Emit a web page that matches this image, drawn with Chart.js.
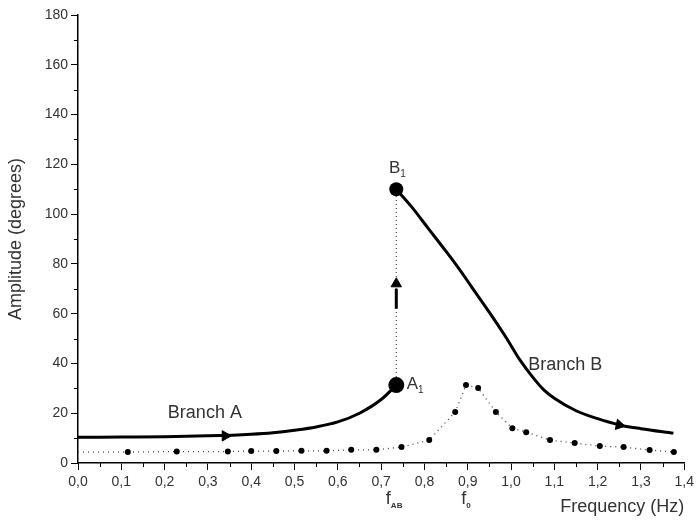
<!DOCTYPE html>
<html>
<head>
<meta charset="utf-8">
<script src="https://cdn.jsdelivr.net/npm/chart.js@4.4.0/dist/chart.umd.min.js"></script>
<style>
  html, body { margin: 0; padding: 0; background: #fff; }
</style>
</head>
<body>
<canvas id="grafico" width="698" height="526"></canvas>
<script>
// Branch A (sweep up), Branch B (sweep down), linear response (dotted)
const freqA = [0, 0.1, 0.2, 0.3, 0.4, 0.45, 0.5, 0.55, 0.6, 0.65, 0.7, 0.735];
const ampA = [10.3, 10.4, 10.5, 10.9, 11.6, 12.2, 13.2, 14.5, 16.5, 20, 25.5, 31.3];

const freqB = [0.735, 0.77, 0.81, 0.85, 0.88, 0.91, 0.95, 0.99, 1.02, 1.05, 1.075, 1.1, 1.15, 1.2, 1.25, 1.3, 1.375];
const ampB = [110, 103, 94, 85, 78, 70.5, 60.5, 50, 41.5, 34.5, 29.5, 26, 21, 17.8, 15.3, 13.8, 12];

const freqLin = [0, 0.115, 0.228, 0.346, 0.40, 0.458, 0.516, 0.574, 0.631, 0.689, 0.747, 0.811, 0.871, 0.896, 0.924, 0.965, 1.003, 1.035, 1.09, 1.147, 1.205, 1.26, 1.32, 1.376];
const ampLin = [4.4, 4.4, 4.6, 4.6, 4.8, 4.8, 4.9, 4.9, 5.3, 5.3, 6.4, 9.2, 20.5, 31.3, 30.1, 20.5, 14, 12.4, 9.2, 8, 6.8, 6.4, 5.2, 4.4];

// jump from A1 up to B1
const fJump = 0.735;
const ampJump = [31.3, 110];

// direction arrows: position and heading (degrees, 0 = up)
const arrowFreq = [0.34, 0.735, 1.25];
const arrowAmp = [10.9, 72, 15.3];
const arrowRot = [90, 0, 102];
const arrowShaftAmp = [62, 70];

const xTicks = [0, 0.1, 0.2, 0.3, 0.4, 0.5, 0.6, 0.7, 0.8, 0.9, 1.0, 1.1, 1.2, 1.3, 1.4];
const xTickLabels = ["0,0", "0,1", "0,2", "0,3", "0,4", "0,5", "0,6", "0,7", "0,8", "0,9", "1,0", "1,1", "1,2", "1,3", "1,4"];
const yTicks = [0, 20, 40, 60, 80, 100, 120, 140, 160, 180];

const textos = [
  { txt: "Branch A", x: 0.293, y: 20.2 },
  { txt: "Branch B", x: 1.125, y: 39.3 }
];
const pontosNome = [
  { txt: "A", sub: "1", x: 0.759, y: 31.5, align: "left" },
  { txt: "B", sub: "1", x: 0.737, y: 118.5, align: "center" }
];
const freqMarcas = [
  { txt: "f", sub: "AB", x: 0.73 },
  { txt: "f", sub: "0", x: 0.896 }
];

const cor = "#333";
const fonte = "'Liberation Sans', Arial, sans-serif";
const pares = (xs, ys) => xs.map((x, i) => ({ x: x, y: ys[i] }));

// minor ticks, annotations and frequency markers
const extras = {
  id: "extras",
  afterDraw(chart) {
    const ctx = chart.ctx;
    const sx = chart.scales.x, sy = chart.scales.y;
    ctx.save();
    ctx.strokeStyle = "#000";
    ctx.lineWidth = 1;
    for (let v = 0.05; v < 1.4; v += 0.1) {
      const px = Math.round(sx.getPixelForValue(v)) + 0.5;
      ctx.beginPath(); ctx.moveTo(px, sy.bottom); ctx.lineTo(px, sy.bottom + 4); ctx.stroke();
    }
    for (let v = 10; v < 180; v += 20) {
      const py = Math.round(sy.getPixelForValue(v)) + 0.5;
      ctx.beginPath(); ctx.moveTo(sx.left, py); ctx.lineTo(sx.left - 4, py); ctx.stroke();
    }

    ctx.fillStyle = cor;
    ctx.textBaseline = "middle";
    ctx.font = "18px " + fonte;
    textos.forEach(t => {
      ctx.textAlign = "center";
      ctx.fillText(t.txt, sx.getPixelForValue(t.x), sy.getPixelForValue(t.y));
    });

    pontosNome.forEach(p => {
      ctx.font = "17px " + fonte;
      const w = ctx.measureText(p.txt).width;
      let px = sx.getPixelForValue(p.x);
      const py = sy.getPixelForValue(p.y);
      if (p.align === "center") px -= (w + 5) / 2;
      ctx.textAlign = "left";
      ctx.fillText(p.txt, px, py);
      ctx.font = "10px " + fonte;
      ctx.fillText(p.sub, px + w, py + 6);
    });

    const fy = sy.bottom + 36;
    freqMarcas.forEach(m => {
      ctx.font = "18px " + fonte;
      const w = ctx.measureText(m.txt).width;
      ctx.font = "bold 8px " + fonte;
      const ws = ctx.measureText(m.sub).width;
      const px = sx.getPixelForValue(m.x) - (w + ws) / 2;
      ctx.textAlign = "left";
      ctx.font = "18px " + fonte;
      ctx.fillText(m.txt, px, fy);
      ctx.font = "bold 8px " + fonte;
      ctx.fillText(m.sub, px + w, fy + 7);
    });
    ctx.restore();
  }
};

// datasets listed top layer first
new Chart(document.getElementById("grafico"), {
  type: "scatter",
  data: {
    datasets: [
      {
        data: pares(arrowFreq, arrowAmp),
        pointStyle: "triangle",
        rotation: arrowRot,
        pointRadius: 6,
        pointBackgroundColor: "#000",
        pointBorderColor: "#000",
        pointBorderWidth: 1
      },
      {
        data: [{ x: fJump, y: ampJump[0] }, { x: fJump, y: ampJump[1] }],
        pointRadius: [8, 7],
        pointBackgroundColor: "#000",
        pointBorderWidth: 0
      },
      {
        data: [{ x: fJump, y: arrowShaftAmp[0] }, { x: fJump, y: arrowShaftAmp[1] }],
        showLine: true,
        borderColor: "#000",
        borderWidth: 3,
        pointRadius: 0
      },
      {
        data: pares(freqA, ampA),
        showLine: true,
        borderColor: "#000",
        borderWidth: 3,
        cubicInterpolationMode: "monotone",
        pointRadius: 0
      },
      {
        data: pares(freqB, ampB),
        showLine: true,
        borderColor: "#000",
        borderWidth: 3,
        cubicInterpolationMode: "monotone",
        pointRadius: 0
      },
      {
        data: [{ x: fJump, y: ampJump[0] }, { x: fJump, y: ampJump[1] }],
        showLine: true,
        borderColor: "#555",
        borderWidth: 1.3,
        borderDash: [1, 3],
        pointRadius: 0
      },
      {
        data: pares(freqLin, ampLin),
        showLine: true,
        borderColor: "#444",
        borderWidth: 1.3,
        borderDash: [1, 4],
        tension: 0,
        pointRadius: freqLin.map((f, i) => i === 0 ? 0 : 3),
        pointBackgroundColor: "#000",
        pointBorderWidth: 0
      }
    ]
  },
  options: {
    responsive: false,
    animation: false,
    devicePixelRatio: 1,
    layout: { padding: { top: 15, right: 11, left: 0, bottom: 0 } },
    plugins: { legend: { display: false }, tooltip: { enabled: false } },
    scales: {
      x: {
        type: "linear",
        min: 0,
        max: 1.4,
        afterBuildTicks: s => { s.ticks = xTicks.map(v => ({ value: v })); },
        afterFit: s => { s.height = 63; },
        ticks: {
          color: cor,
          font: { size: 14, family: fonte },
          padding: 4,
          maxRotation: 0,
          autoSkip: false,
          callback: (v, i) => xTickLabels[i]
        },
        grid: { drawOnChartArea: false, tickLength: 7, tickColor: "#000", tickWidth: 1 },
        border: { color: "#000", width: 1.5 },
        title: {
          display: true,
          text: "Frequency (Hz)",
          align: "end",
          color: cor,
          font: { size: 18, family: fonte },
          padding: { top: 0, bottom: 8 }
        }
      },
      y: {
        min: 0,
        max: 180,
        afterBuildTicks: s => { s.ticks = yTicks.map(v => ({ value: v })); },
        afterFit: s => { s.width = 78; },
        ticks: {
          color: cor,
          font: { size: 14, family: fonte },
          padding: 3
        },
        grid: { drawOnChartArea: false, tickLength: 7, tickColor: "#000", tickWidth: 1 },
        border: { color: "#000", width: 1.5 },
        title: {
          display: true,
          text: "Amplitude (degrees)",
          color: cor,
          font: { size: 18, family: fonte },
          padding: { top: 5, bottom: 0 }
        }
      }
    }
  },
  plugins: [extras]
});
</script>
</body>
</html>
